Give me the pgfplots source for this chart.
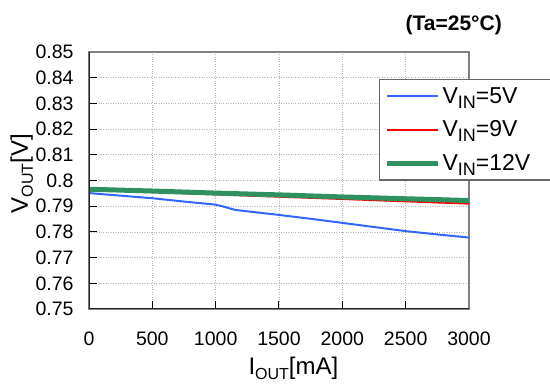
\documentclass[border=0pt]{standalone}
\usepackage{fontspec}
\setmainfont{Liberation Sans}
\usepackage{pgfplots}
\pgfplotsset{compat=1.18}
\definecolor{cblue}{RGB}{51,102,255}
\definecolor{cred}{RGB}{255,0,0}
\definecolor{cgreen}{RGB}{46,145,95}
\newcommand\lsub[2]{\raisebox{-5pt}{\fontsize{#1}{#1}\selectfont #2}}
\begin{document}
\begin{tikzpicture}[x=1pt,y=1pt]
\useasboundingbox (0,0) rectangle (550,387);
\begin{axis}[
  at={(89pt,78pt)}, anchor=south west,
  scale only axis, width=380pt, height=257pt,
  xmin=0, xmax=3000, ymin=0.75, ymax=0.85,
  xtick={0,500,...,3000},
  ytick={0.75,0.76,0.77,0.78,0.79,0.80,0.81,0.82,0.83,0.84,0.85},
  /pgf/number format/assume math mode=true,
  /pgf/number format/set thousands separator={},
  yticklabel style={/pgf/number format/fixed,/pgf/number format/precision=2, xshift=-12pt},
  xticklabel style={yshift=-19pt},
  ticklabel style={font=\fontsize{19.5}{22}\selectfont},
  tick align=inside, tick pos=left,
  major tick length=8pt,
  tick style={black, line width=1pt},
  grid=major,
  grid style={dotted, gray!60, line width=0.7pt},
  axis line style={draw=gray, line width=1.6pt},
  xlabel={I\lsub{16}{OUT}[mA]},
  ylabel={V\lsub{16}{OUT}[V]},
  every axis x label/.style={at={(axis description cs:0.538,0)}, anchor=base, yshift=-66pt, font=\fontsize{24}{26}\selectfont},
  every axis y label/.style={at={(axis description cs:0,0.527)}, xshift=-61pt, rotate=90, anchor=base, font=\fontsize{24}{26}\selectfont},
  legend style={at={(0.763,0.895)}, anchor=north west, draw=gray!80!black, line width=1.2pt,
    font=\fontsize{23}{25}\selectfont, row sep=12pt, inner xsep=5pt, inner ysep=6pt,
    nodes={inner sep=2pt}},
  legend cell align=left,
  legend image code/.code={\draw[#1] (0pt,0pt) -- (51pt,0pt);},
]
\addplot[cblue, line width=2pt] coordinates {
(0,0.7951) (250,0.7941) (500,0.7931) (750,0.7918) (1000,0.7906) (1050,0.7900) (1150,0.7886) (1250,0.7880)
(1500,0.7866) (1750,0.7851) (2000,0.7835) (2250,0.7819) (2500,0.7803) (2750,0.7790) (3000,0.7778)};
\addlegendentry{V\lsub{18}{IN}=5V\hspace*{60pt}}
\addplot[cred, line width=2pt] coordinates {
(0,0.7964) (500,0.7955) (1000,0.7946) (1500,0.7937) (2000,0.7928) (2500,0.7919) (3000,0.7910)};
\addlegendentry{V\lsub{18}{IN}=9V}
\addplot[cgreen, line width=5pt] coordinates {
(0,0.7966) (500,0.7959) (1000,0.7951) (1500,0.7944) (2000,0.7936) (2500,0.7929) (3000,0.7922)};
\addlegendentry{V\lsub{18}{IN}=12V}
\draw[black!85, line width=1.6pt] (rel axis cs:0,1) -- (rel axis cs:0,0) -- (rel axis cs:1,0);
\end{axis}
\node[anchor=base east, inner sep=0pt, font=\fontsize{21}{24}\selectfont\bfseries] at (502,356) {(Ta=25°C)};
\end{tikzpicture}
\end{document}
